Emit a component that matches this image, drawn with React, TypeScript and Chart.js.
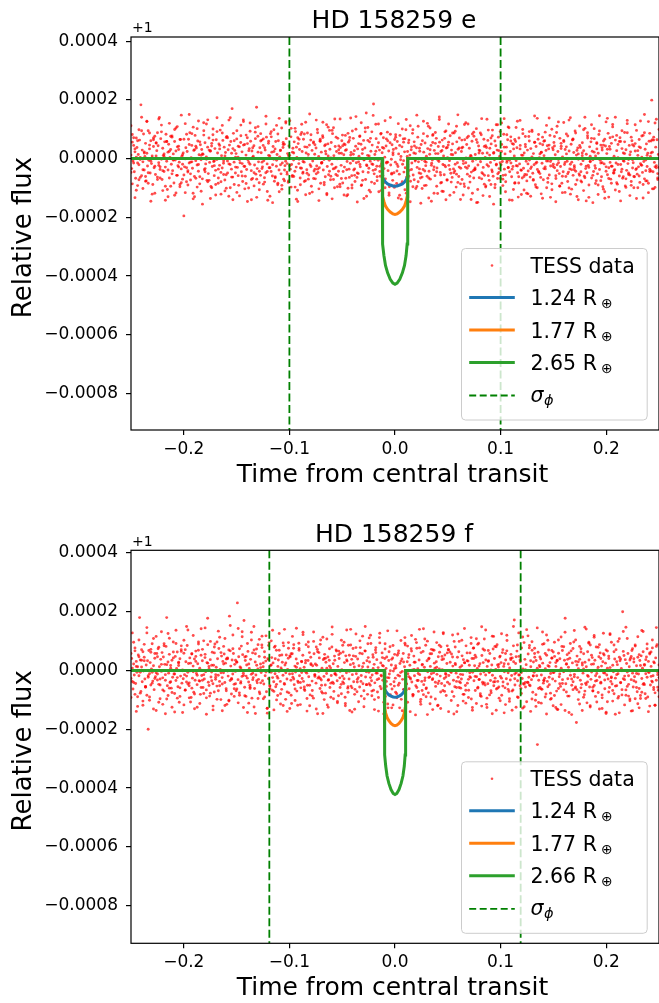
import React, { useEffect, useRef } from "react";
import { Chart, registerables } from "chart.js";

Chart.register(...registerables);

// ---------- text ----------
const panelTitles = ["HD 158259 e", "HD 158259 f"];
const xLabel = "Time from central transit";
const yLabel = "Relative flux";
const offsetLabel = "+1";
const legendDataLabel = "TESS data";
const radiiE = ["1.24", "1.77", "2.65"];
const radiiF = ["1.24", "1.77", "2.66"];

// ---------- axes ----------
const xTicks = [-0.2, -0.1, 0.0, 0.1, 0.2];
const yTicksPpm = [400, 200, 0, -200, -400, -600, -800];
const xRange = [-0.25, 0.25];
const yRangeEPpm = [-924, 414];
const yRangeFPpm = [-928, 409];

// sigma_phi (timing uncertainty) markers
const sigmaPhiE = 0.1;
const sigmaPhiF = 0.119;

// ---------- transit models (relative flux - 1, ppm) ----------
const modelTimesE = [-0.25, -0.0121, -0.012, -0.0115, -0.0105, -0.009, -0.007, -0.0045, -0.002, 0, 0.002, 0.0045, 0.007, 0.009, 0.0105, 0.0115, 0.012, 0.0121, 0.25];
const modelBlueEPpm = [0, 0, -56, -64, -72, -80, -86, -90, -93, -94, -93, -90, -86, -80, -72, -64, -56, 0, 0];
const modelOrangeEPpm = [0, 0, -114, -129, -146, -162, -173, -182, -188, -190, -188, -182, -173, -162, -146, -129, -114, 0, 0];
const modelGreenEPpm = [0, 0, -257, -291, -330, -364, -389, -411, -424, -428, -424, -411, -389, -364, -330, -291, -257, 0, 0];

const modelTimesF = [-0.25, -0.0101, -0.01, -0.0096, -0.0088, -0.0075, -0.0058, -0.0038, -0.0017, 0, 0.0017, 0.0038, 0.0058, 0.0075, 0.0088, 0.0096, 0.01, 0.0101, 0.25];
const modelBlueFPpm = [0, 0, -55, -62, -70, -77, -83, -87, -90, -91, -90, -87, -83, -77, -70, -62, -55, 0, 0];
const modelOrangeFPpm = [0, 0, -113, -128, -145, -160, -171, -180, -186, -188, -186, -180, -171, -160, -145, -128, -113, 0, 0];
const modelGreenFPpm = [0, 0, -253, -287, -325, -359, -384, -405, -418, -422, -418, -405, -384, -359, -325, -287, -253, 0, 0];

// ---------- TESS phase-folded photometry (flux - 1, ppm); each block is evenly sampled over the window ----------
const tessFluxEPpm = [
  12,-34,56,-8,71,-45,23,-67,5,38,-92,14,-21,63,-3,183,-58,29,-11,84,
  -39,7,52,-76,18,-25,95,-6,33,-49,61,-17,2,-88,41,-31,76,-54,9,27,
  -63,44,-14,140,-37,68,-2,-71,35,11,-44,57,-29,83,-9,-105,22,49,-66,4,
  31,-19,73,-41,16,-83,58,-5,26,-57,109,-24,42,-12,-96,65,-35,8,-70,19,
  -195,-28,-1,37,-79,24,-46,66,-15,88,-52,3,45,-33,-118,28,-61,79,-7,36,
  -22,60,-43,13,-86,47,-4,31,-69,15,122,-38,54,-18,6,-74,39,-51,70,-13,
  25,-95,43,-27,81,-10,-58,34,-40,64,-3,19,-84,50,-23,97,-47,10,-32,62,
  -16,39,-73,21,-55,75,-8,30,-128,46,-20,58,-36,170,-63,86,-12,28,-49,17,
  67,-30,5,-91,40,-14,55,-45,23,-78,132,-26,48,-60,12,-37,71,-5,-100,34,
  -19,59,-41,26,-68,8,44,-22,90,-53,175,-34,76,-11,-82,37,-57,20,63,-28,
  45,-7,-65,29,-48,73,-18,-142,52,-31,9,85,-44,22,-59,41,-2,-77,33,58,
  -26,14,-89,61,-39,6,27,-52,104,-15,38,-70,49,-24,-9,68,-46,17,-81,43,
  11,-36,74,-20,-61,35,-5,57,-43,92,-29,4,-108,51,-17,31,-66,82,-33,24,
  -50,66,-12,40,-75,19,-38,87,2,-56,46,-21,63,-94,28,-8,53,-42,15,-69,
  36,-25,99,-47,7,-31,60,-84,22,-13,78,-39,-3,44,-62,16,115,-27,50,-55,
  -6,32,-72,55,-19,85,-35,10,-99,41,-54,24,-1,69,-43,18,-87,38,-23,61,
  80,-44,13,-29,47,-67,30,-10,-123,56,-36,72,-16,21,-58,94,-7,-39,27,-78,
  42,-14,-64,33,-51,8,75,-28,49,-90,17,-45,62,-3,36,-71,155,-24,11,-47,
  -33,57,-9,25,-80,46,-20,186,-52,14,-37,68,-26,39,-6,-113,29,-60,84,-18,
  20,-57,71,-34,5,-69,43,-12,90,-41,26,-96,54,-22,-2,47,-74,31,-48,65,
  -12,35,-85,58,-27,16,-53,79,-4,-138,40,-19,67,-46,23,-31,98,-63,7,-21,
  54,-40,12,-77,30,-15,86,-56,19,43,-8,-102,37,-30,73,-11,-49,25,-66,48,
  -3,61,-37,22,-92,53,-24,8,-60,34,110,-43,15,-70,45,-16,-5,82,-38,28,
  -58,17,69,-32,-119,41,-10,56,-47,24,-81,63,-20,9,-55,91,-28,36,-73,3,
  46,-23,-7,78,-50,29,-64,13,-35,87,-42,20,-97,57,-14,32,-61,70,-1,-33,
  24,-71,39,-17,-86,64,-29,2,48,-53,118,-25,35,-80,11,-46,59,-9,-41,76,
  -37,14,-2,-150,55,-22,43,-65,27,-11,81,-48,18,-30,66,-57,4,-93,38,19,
  62,-26,-74,35,-13,50,-39,97,-60,21,-4,-88,44,-19,29,-52,73,-34,8,-68,
  -21,48,-10,-57,83,-36,16,-79,39,-7,64,-30,105,-45,24,-15,-62,51,-27,33,
  9,-82,58,-24,37,-48,-131,70,-18,45,-39,12,-66,85,-33,19,-54,40,-9,-76,
  29,-42,75,-5,-63,34,-28,92,-50,17,-21,56,-89,41,-12,-37,66,-44,3,51,
  -64,22,-16,47,-72,10,61,-35,28,-99,44,-8,33,-56,79,-25,-3,-106,37,-19,
  55,-31,13,-68,89,-41,24,-14,-51,69,-27,42,-84,6,-45,58,-20,31,-61,16,
  -9,77,-46,26,-35,-121,49,-12,63,-57,21,-30,94,-43,12,-73,36,-2,-52,45,
  38,-19,-80,54,-7,27,-60,103,-34,15,-48,70,-23,-90,40,-11,57,-66,25,-4,
  -44,68,-24,9,-75,33,-52,18,82,-37,-6,46,-62,29,-96,60,-18,-135,43,-28,
  17,-55,86,-31,41,-13,-70,52,-26,74,-49,8,-38,63,-15,27,-87,48,-1,-59,
  71,-20,-45,34,-67,19,-9,57,-93,30,-40,88,-17,-3,45,-56,23,-78,61,-32,
  -14,43,-62,26,-37,96,-53,11,-28,65,-81,37,-22,5,-47,79,-10,-69,32,-41,
  50,-27,18,-84,59,-36,7,60,199,22,-45,73,-13,-98,39,-24,64,-51,14,-30,
];

const tessFluxEPpmB = [
  112,-86,45,-133,70,-15,98,-64,141,-102,23,-77,126,-48,87,-145,9,64,-118,53,
  -71,135,-28,91,-109,16,-142,58,-39,120,-94,77,-6,-125,104,-57,31,-88,148,-19,
  66,-116,83,-41,150,-73,-11,107,-130,42,-97,128,-62,11,-155,95,-34,118,-79,29,
  -136,52,101,-24,-88,139,-66,33,-121,87,-8,-110,72,-49,131,-99,18,-140,61,-29,
  95,-58,-127,114,-17,46,-103,80,-146,27,121,-71,4,-93,68,-132,109,-43,85,-12,
  -87,37,144,-112,59,-31,92,-150,24,-65,113,-84,137,-21,-104,48,-76,126,-53,10,
  129,-97,22,-61,103,-138,71,-2,-89,117,-46,84,-123,39,-70,152,-27,-114,57,-36,
  -52,88,-143,66,-14,124,-81,47,-119,9,96,-60,-137,105,-33,73,-96,30,135,-68,
  44,-124,79,-38,-101,62,138,-90,15,-57,100,-148,51,-20,122,-74,-5,91,-128,106,
  -108,69,-18,147,-85,25,-62,118,-44,86,-131,35,-99,67,-12,-117,140,-50,13,-92,
  81,-42,119,-125,7,-79,56,-106,133,-26,63,-147,40,98,-72,17,-95,110,-35,-152,
  -63,127,-9,-91,76,-134,104,-23,55,-118,89,-45,-6,142,-83,28,-112,69,-140,38,
  118,-37,-80,50,-115,93,-53,149,-29,-86,36,-124,116,-14,71,-100,3,-139,84,-66,
  -32,102,-149,19,87,-69,-126,41,-97,134,-58,12,-88,78,-155,60,-22,115,-47,92,
  24,-92,136,-56,-13,108,-141,74,-36,-105,65,-7,127,-83,33,-122,99,-61,48,-118,
  -120,60,-34,97,-71,145,-16,-99,82,-51,21,-135,59,-28,113,-67,138,-10,-86,30,
  75,-147,110,-3,-94,52,-60,123,-115,40,-78,131,-19,-104,67,-38,87,-129,16,-57,
  -45,19,-109,141,-26,88,-132,8,69,-150,102,-33,54,-90,146,-75,-14,46,-113,125,
  137,-68,32,-84,116,-41,-107,79,-20,58,-144,95,-62,17,-98,130,-49,-126,73,-4,
  -99,51,-136,27,-59,128,-23,-88,150,-76,11,-116,86,-42,64,-103,121,-31,-71,99,
];

const tessFluxEPpmC = [
  -47,82,-15,33,-108,61,-72,4,95,-38,19,-61,127,-84,46,-9,-121,70,-26,53,
  88,-23,-66,114,-41,7,-94,58,-130,25,76,-52,-3,99,-117,40,-29,65,-82,13,
  -56,119,-31,-90,48,-12,85,-137,30,-67,102,-20,57,-111,16,80,-45,-2,132,-74,
  27,-99,63,-8,-124,92,-36,45,-79,113,-54,9,-101,71,-18,139,-63,34,-88,5,
  -115,42,-4,78,-59,126,-27,-85,51,-13,93,-140,37,-48,105,-70,22,-106,60,-34,
  67,-80,118,-44,11,-128,74,-21,98,-62,-6,84,-113,29,-91,55,-39,121,-17,-76,
  -24,103,-57,19,-97,39,-146,66,-32,89,-10,-78,124,-50,14,-119,81,-1,-68,47,
  131,-36,-103,59,-16,72,-89,25,-123,107,-43,2,96,-71,135,-29,-58,43,-96,18,
  -83,50,28,-127,86,-64,12,-100,69,-35,143,-49,-11,77,-92,31,-136,104,-22,62,
  9,-114,91,-40,-3,117,-75,54,-26,-109,38,-82,129,-15,61,-125,83,-53,20,-98,
  73,-19,-134,45,-86,101,-7,68,-118,24,-60,112,-37,-96,57,-4,148,-79,35,-51,
  -102,85,-42,-12,120,-66,30,-145,79,-28,52,-94,17,133,-56,-111,41,-23,94,-73,
  56,-125,14,87,-48,-19,110,-81,36,-139,63,-7,-95,122,-33,76,-60,8,-118,90,
  -37,64,-105,29,-2,136,-52,-87,44,-21,97,-129,70,-45,18,-99,115,-68,27,-14,
  121,-70,39,-113,81,-31,-6,60,-142,49,-84,106,-25,-62,130,-40,11,-107,75,-55,
  -18,92,-128,6,-74,55,-97,137,-46,16,-120,73,-34,90,-8,-81,46,-132,100,-27,
  43,-58,-21,125,-93,34,-116,62,-13,84,-52,-100,139,-38,65,-24,-88,28,-140,111,
  -76,10,98,-65,-144,78,-30,-9,115,-57,22,-85,51,-122,94,-15,37,-104,66,-43,
  32,-131,71,-26,108,-49,141,-82,3,-112,58,-36,-7,89,-69,119,-54,13,-91,47,
  -61,115,-34,-99,40,-17,77,-134,88,-5,-76,126,-44,19,-103,63,-28,134,-66,2,
];

const tessFluxFPpm = [
  -27,41,8,-63,22,-15,77,-44,31,-6,-89,53,-18,180,36,-71,12,-38,64,-2,
  45,-29,-57,19,-84,33,-200,68,-11,27,-49,5,91,-36,16,-65,42,-21,-8,58,
  -32,74,-47,13,-96,38,-3,61,-25,46,-70,21,-14,82,180,-52,29,-9,55,-41,
  17,-60,35,-23,97,-12,-78,48,-34,7,63,-55,26,-108,40,-19,71,-43,2,-28,
  59,-14,-67,30,-39,85,-6,24,-52,43,-1,-92,57,-26,15,-74,39,-33,66,-10,
  -48,23,69,-35,8,-81,52,-17,33,-58,101,-29,44,-4,-66,27,178,-40,14,-87,
  37,-22,-5,62,-45,18,-73,90,-30,11,-53,40,-16,75,-37,4,-99,49,-24,31,
  -8,56,-41,25,-62,-115,43,-19,70,185,-34,15,-80,36,-12,58,-47,21,-3,-69,
  28,230,-31,47,-76,12,-43,83,-20,54,-9,170,-57,34,-88,19,-26,65,-39,7,
  -50,38,-13,-94,60,-24,150,-61,29,-15,73,-42,5,-30,48,-79,22,-7,87,-35,
  13,-46,64,-18,32,-72,-129,40,-28,95,-53,17,-6,44,-67,26,-38,79,-11,-55,
  69,-20,-85,36,-3,51,-37,9,-64,28,-16,84,-44,19,-98,53,-29,4,42,-76,
  -12,47,-33,-112,57,-23,76,-48,15,-5,39,-70,24,-41,93,-18,6,-59,31,-27,
  52,-37,11,-68,26,88,-9,-50,34,-21,61,-83,45,-1,-36,16,-94,57,-14,22,
  -43,18,72,-26,-3,43,-61,104,-32,8,-77,37,-20,55,-49,28,-10,-117,46,-31,
  35,-58,9,-17,80,-40,23,-71,49,-12,-2,66,-35,14,-86,41,-25,59,-47,3,
  -19,63,-44,27,-91,50,-8,32,-60,86,-29,-136,20,-53,38,-14,75,-38,12,-64,
  48,-11,-72,39,-24,16,-56,78,-37,3,57,-45,25,-96,67,-22,-4,33,-81,44,
  -6,29,-50,92,-35,-15,54,-67,21,-42,70,-9,37,-73,10,-28,112,-54,26,-19,
  60,-33,15,-59,41,-88,7,46,-24,-127,34,-12,81,-47,19,-63,43,-2,-38,55,
  -26,9,-79,52,-16,67,-43,24,-7,-98,39,-30,58,-65,13,87,-21,-46,30,-11,
  44,-62,18,-29,74,-39,2,-83,49,-18,28,-52,95,-34,6,-71,36,-14,-106,61,
  -37,21,65,-48,11,-25,86,-59,33,-4,-76,42,-22,14,-90,57,-31,70,-8,25,
  8,-54,30,-13,-120,47,-36,62,-19,81,-44,3,-68,39,-27,53,-10,-85,24,-40,
  71,-17,-46,28,-3,56,-72,15,-33,99,-55,20,-9,-140,45,-23,64,-38,11,-60,
  -29,50,-14,37,-81,26,-51,84,-2,-43,32,-67,18,60,-24,-97,41,-6,76,-35,
  16,-68,45,-21,7,-57,93,-30,23,-12,-88,51,-40,27,-5,69,-49,36,-115,14,
  -45,33,-7,58,-34,-76,19,-16,73,-52,41,-26,4,-63,88,-37,12,-94,46,-20,
  27,-84,61,-39,14,-4,-59,36,-28,102,-46,22,-71,9,-32,55,-17,43,-66,30,
  172,-49,24,-8,66,-35,-92,48,-15,30,-61,77,-27,5,-44,-123,38,-56,20,-1,
  -40,56,-23,85,-52,13,-31,69,-74,29,-6,45,-101,34,-18,-252,62,-33,17,-58,
  39,-15,-64,25,-43,91,-26,6,-80,52,-37,16,70,-48,27,-10,-95,43,-29,63,
  -7,48,-36,14,-70,33,-133,59,-21,40,-54,8,82,-31,-2,-66,35,178,-45,23,
  54,-28,11,-87,42,-16,67,-50,26,-38,97,-13,-60,31,-177,49,-24,6,-73,38,
  -33,74,-47,19,-9,57,-82,28,-43,13,-110,64,-20,36,-56,87,-30,-5,44,-69,
  22,-51,35,-18,80,-34,3,-75,47,-22,60,-40,15,-93,30,-8,53,-62,25,-142,
  -15,66,-29,41,-58,10,-37,96,-46,18,-4,-79,39,-26,71,-52,20,-11,-88,45,
  33,-42,7,-65,200,-28,51,-19,37,-84,24,-5,58,-47,13,-103,42,-31,68,-9,
  -56,29,-21,83,-39,16,-72,45,-12,-61,34,-95,50,-27,8,64,-44,21,-79,37,
  46,-23,-90,31,-7,60,-49,14,-36,77,-18,-58,26,-118,43,-33,88,-14,-67,19,
];

const tessFluxFPpmB = [
  -92,128,-41,67,-139,13,104,-77,35,-118,89,-54,146,-23,-101,72,-6,-131,58,116,
  47,-108,-29,132,-66,91,-147,20,-85,110,-38,-125,63,-12,137,-94,28,-59,84,-143,
  -117,71,150,-46,-93,25,-60,119,-130,48,-16,97,-112,142,-33,-78,55,-149,88,6,
  99,-35,-121,80,-14,-98,134,-52,61,-137,22,109,-69,40,-104,153,-27,74,-88,-45,
  -63,143,-84,9,115,-126,46,-19,92,-111,-57,130,-31,70,-146,18,-95,106,-42,78,
  26,-90,118,-145,37,-61,101,-24,-134,83,-47,14,126,-79,53,-119,140,-8,-73,95,
  -129,57,-11,88,-102,144,-36,69,-116,30,122,-64,-5,-138,97,-50,23,-87,131,-20,
  80,-147,61,-27,-72,113,-99,42,8,-125,74,-43,148,-96,35,-15,-110,66,-58,103,
  -39,96,-120,138,-55,-3,87,-141,50,-81,124,-30,-106,59,-17,117,-69,150,-48,12,
  111,-24,-86,45,-133,78,-9,-92,127,-62,17,-148,91,-37,-114,64,-1,-127,85,-53,
  -74,135,-50,-19,102,-137,29,93,-66,-108,54,-25,119,-81,4,-151,76,-34,140,-98,
  19,-82,107,-62,-150,39,-113,72,-28,131,-97,11,-44,86,-129,48,125,-71,-13,60,
  -140,63,-7,121,-88,24,-58,-119,99,-42,16,-104,143,-67,33,-92,-21,112,-135,77,
  52,-112,89,-31,-79,149,-46,107,-15,-126,68,-83,2,-147,116,-38,81,-60,21,-103,
  -26,71,-144,58,120,-64,-105,37,-135,84,-12,47,-90,128,-52,-7,-128,95,-41,139,
  118,-49,33,-97,-18,76,-122,145,-61,13,-111,89,-35,58,-148,103,-23,-77,42,-120,
  -85,27,-132,104,-45,-116,68,-4,130,-73,38,-143,92,-29,-65,136,-56,19,-99,82,
  63,-136,5,-70,141,-39,96,-124,21,-57,113,-88,-10,79,-131,41,-83,127,-32,-146,
  -106,49,125,-22,-68,87,-149,30,-94,108,-41,-1,65,-117,147,-54,-87,36,-138,74,
  40,-96,-58,115,-127,17,-74,133,-48,-11,90,-140,56,-20,104,-65,-118,82,-6,-89,
];

const tessFluxFPpmC = [
  58,-37,96,-81,14,-122,47,-6,71,-104,33,-55,128,-18,-90,62,-43,109,-27,-136,
  -12,79,-49,21,-115,84,-33,-97,126,-60,8,-75,43,-141,92,-24,17,-88,65,-1,
  103,-66,-19,138,-42,-107,56,-4,-80,31,-125,90,-36,-58,72,-14,145,-93,25,-51,
  -77,18,-134,60,-23,97,-69,113,-8,-46,82,-119,39,-2,-101,67,-30,121,-62,35,
  29,-110,74,-38,132,-17,-86,48,-143,22,-61,104,-9,-124,57,-35,88,-73,10,117,
  -96,45,-5,-128,85,-52,19,137,-71,40,-100,-26,69,-114,3,94,-47,26,-139,76,
  50,-84,116,-29,-63,11,-118,75,-41,-7,130,-56,34,-95,81,-120,20,-68,99,-15,
  -131,64,-22,89,-50,-146,41,-77,107,-33,15,-91,123,-44,-11,70,-105,54,-3,-79,
  86,-28,-112,36,-74,52,140,-59,24,-132,78,-39,-1,101,-87,13,-123,66,-48,91,
  -45,120,-70,7,-99,61,-31,-138,94,-16,44,-108,73,-54,135,-25,-82,38,-117,6,
  16,-93,59,-127,32,-3,-64,112,-46,83,-21,-140,66,-87,28,106,-58,-10,77,-115,
  -68,142,-34,-89,100,-24,57,-11,-133,69,-40,95,-118,5,-73,37,129,-52,-22,84,
  71,-2,-102,46,-148,80,-37,124,-58,-13,103,-81,27,-111,60,-30,-8,92,-126,41,
  -20,108,-60,15,-86,-121,73,-42,138,-94,31,-4,-69,117,-39,82,-135,19,-56,49,
  125,-53,23,-116,67,-8,-96,42,-70,150,-28,-125,87,-15,36,-78,114,-47,3,-106,
  -41,77,-139,98,-19,58,-82,8,-109,46,-63,131,-33,-90,121,-55,14,-98,68,-7,
  96,-126,35,-61,-12,114,-44,81,-136,21,-87,60,-2,-150,75,-21,104,-65,30,-114,
  -59,26,-91,147,-48,-17,93,-120,52,-70,119,-36,-107,11,88,-43,-129,57,-9,70,
  8,-73,122,-25,-104,64,-53,-14,99,-144,39,-83,133,-31,-66,109,-18,-97,48,-137,
  -35,87,-10,-113,54,-85,136,-47,18,-95,74,-5,-121,63,-39,29,-76,146,-57,-24,
];

// ---------- styling ----------
const FONT = "'DejaVu Sans', sans-serif";
const colBlue = "#1f77b4";
const colOrange = "#ff7f0e";
const colGreen = "#2ca02c";
const colDash = "#008000";
const colData = "rgba(255,0,0,0.7)";

type PanelDef = {
  title: string;
  flux: number[][];
  yRange: number[];
  sigma: number;
  modelTimes: number[];
  models: number[][];
  radii: string[];
  padTop: number;
  xAxisHeight: number;
};

const panels: PanelDef[] = [
  { title: panelTitles[0], flux: [tessFluxEPpm, tessFluxEPpmB, tessFluxEPpmC], yRange: yRangeEPpm, sigma: sigmaPhiE, modelTimes: modelTimesE,
    models: [modelBlueEPpm, modelOrangeEPpm, modelGreenEPpm], radii: radiiE, padTop: 37, xAxisHeight: 75 },
  { title: panelTitles[1], flux: [tessFluxFPpm, tessFluxFPpmB, tessFluxFPpmC], yRange: yRangeFPpm, sigma: sigmaPhiF, modelTimes: modelTimesF,
    models: [modelBlueFPpm, modelOrangeFPpm, modelGreenFPpm], radii: radiiF, padTop: 45.3, xAxisHeight: 59.7 },
];

function fmt(v: number, d: number) {
  const s = Math.abs(v).toFixed(d);
  return (v < -1e-12 ? "\u2212" : "") + s;
}

const decorPlugin = {
  id: "decor",
  afterDraw(chart: any, _args: any, opts: any) {
    const { ctx, chartArea: a } = chart;
    const p: PanelDef = opts.panel;
    ctx.save();
    // frame
    ctx.strokeStyle = "#000";
    ctx.lineWidth = 1.2;
    ctx.strokeRect(a.left, a.top, a.right - a.left, a.bottom - a.top);
    ctx.fillStyle = "#000";
    ctx.textBaseline = "alphabetic";
    // title
    ctx.font = `25px ${FONT}`;
    ctx.textAlign = "center";
    ctx.fillText(p.title, (a.left + a.right) / 2 - 1, a.top - 8.7);
    // x label
    ctx.fillText(xLabel, (a.left + a.right) / 2 - 2.5, a.bottom + 52);
    // y label
    ctx.save();
    ctx.translate(30.5, (a.top + a.bottom) / 2 + 4);
    ctx.rotate(-Math.PI / 2);
    ctx.font = `26px ${FONT}`;
    ctx.fillText(yLabel, 0, 0);
    ctx.restore();
    // offset text
    ctx.font = `14px ${FONT}`;
    ctx.textAlign = "left";
    ctx.fillText(offsetLabel, a.left + 1, a.top - 4.7);

    // legend
    const lw = 185.7, lh = 171.5;
    const lx = a.right - 11.8 - lw;
    const ly = a.bottom - 10 - lh;
    ctx.beginPath();
    ctx.roundRect(lx, ly, lw, lh, 4);
    ctx.fillStyle = "rgba(255,255,255,0.8)";
    ctx.fill();
    ctx.strokeStyle = "#cccccc";
    ctx.lineWidth = 1;
    ctx.stroke();
    const rows = [17, 49, 81.5, 114, 147];
    const hx0 = lx + 7.7, hx1 = lx + 53.3, tx = lx + 69;
    // data marker
    ctx.fillStyle = colData;
    ctx.beginPath();
    ctx.arc((hx0 + hx1) / 2, ly + rows[0], 1.3, 0, Math.PI * 2);
    ctx.fill();
    const lineCols = [colBlue, colOrange, colGreen];
    for (let k = 0; k < 3; k++) {
      const y = ly + rows[k + 1];
      ctx.strokeStyle = lineCols[k];
      ctx.lineWidth = 3;
      ctx.beginPath();
      ctx.moveTo(hx0, y);
      ctx.lineTo(hx1, y);
      ctx.stroke();
    }
    ctx.strokeStyle = colDash;
    ctx.lineWidth = 1.8;
    ctx.setLineDash([7, 3.5]);
    ctx.beginPath();
    ctx.moveTo(hx0, ly + rows[4]);
    ctx.lineTo(hx1, ly + rows[4]);
    ctx.stroke();
    ctx.setLineDash([]);
    // legend text
    ctx.fillStyle = "#000";
    ctx.font = `20.5px ${FONT}`;
    ctx.fillText(legendDataLabel, tx, ly + rows[0] + 7.5);
    for (let k = 0; k < 3; k++) {
      const y = ly + rows[k + 1] + 7.5;
      ctx.font = `20.5px ${FONT}`;
      const s = `${p.radii[k]} R`;
      ctx.fillText(s, tx, y);
      const w = ctx.measureText(s).width;
      ctx.font = `14px ${FONT}`;
      ctx.fillText("\u2295", tx + w + 4, y + 3);
    }
    ctx.font = `italic 20.5px ${FONT}`;
    ctx.fillText("\u03c3", tx, ly + rows[4] + 6);
    const sw = ctx.measureText("\u03c3").width;
    ctx.font = `italic 14.5px ${FONT}`;
    ctx.fillText("\u03d5", tx + sw + 0.5, ly + rows[4] + 9);
    ctx.restore();
  },
};

function buildConfig(p: PanelDef): any {
  const tessPoints: { x: number; y: number }[] = [];
  p.flux.forEach((block) => {
    const n = block.length;
    block.forEach((v, i) => {
      tessPoints.push({ x: xRange[0] + (i * (xRange[1] - xRange[0])) / (n - 1), y: v });
    });
  });
  const modelCols = [colBlue, colOrange, colGreen];
  const modelSets = p.models.map((m, k) => ({
    data: m.map((v, i) => ({ x: p.modelTimes[i], y: v })),
    showLine: true,
    borderColor: modelCols[k],
    borderWidth: 3,
    pointRadius: 0,
    tension: 0,
    order: 3 - k,
  }));
  const dashSets = [-p.sigma, p.sigma].map((s) => ({
    data: [{ x: s, y: p.yRange[1] }, { x: s, y: p.yRange[0] }],
    showLine: true,
    borderColor: colDash,
    borderWidth: 1.8,
    borderDash: [8, 3.5],
    pointRadius: 0,
    order: 0,
  }));
  const tickFont = { family: FONT, size: 17 };
  return {
    type: "scatter",
    data: {
      datasets: [
        {
          data: tessPoints,
          pointRadius: 1.45,
          pointBackgroundColor: colData,
          pointBorderWidth: 0,
          backgroundColor: colData,
          borderWidth: 0,
          order: 4,
        },
        ...modelSets,
        ...dashSets,
      ],
    },
    options: {
      responsive: false,
      animation: false,
      devicePixelRatio: 1,
      events: [],
      layout: { padding: { top: p.padTop, left: 0, right: 0, bottom: 0 } },
      plugins: {
        legend: { display: false },
        tooltip: { enabled: false },
        title: { display: false },
        decor: { panel: p },
      },
      scales: {
        x: {
          type: "linear",
          min: xRange[0],
          max: xRange[1],
          border: { display: false },
          grid: { drawOnChartArea: false, drawTicks: true, tickLength: 5, color: "#000", lineWidth: 1.2 },
          ticks: { font: tickFont, color: "#000", padding: 4, maxRotation: 0, autoSkip: false, callback: (v: number) => fmt(v, 1) },
          afterBuildTicks: (s: any) => { s.ticks = xTicks.map((v) => ({ value: v })); },
          afterFit: (s: any) => { s.height = p.xAxisHeight; s.paddingLeft = 0; s.paddingRight = 0; },
        },
        y: {
          type: "linear",
          min: p.yRange[0],
          max: p.yRange[1],
          border: { display: false },
          grid: { drawOnChartArea: false, drawTicks: true, tickLength: 5, color: "#000", lineWidth: 1.2 },
          ticks: { font: tickFont, color: "#000", padding: 8, autoSkip: false, callback: (v: number) => fmt(v / 1e6, 4) },
          afterBuildTicks: (s: any) => { s.ticks = yTicksPpm.map((v) => ({ value: v })); },
          afterFit: (s: any) => { s.width = 131; s.paddingTop = 0; s.paddingBottom = 0; },
        },
      },
    },
    plugins: [decorPlugin],
  };
}

export default function App() {
  const refE = useRef<HTMLCanvasElement>(null);
  const refF = useRef<HTMLCanvasElement>(null);
  useEffect(() => {
    const c1 = new Chart(refE.current as HTMLCanvasElement, buildConfig(panels[0]));
    const c2 = new Chart(refF.current as HTMLCanvasElement, buildConfig(panels[1]));
    return () => {
      c1.destroy();
      c2.destroy();
    };
  }, []);
  return (
    <div style={{ position: "absolute", left: 0, top: 0, width: 659, height: 1003, overflow: "hidden", background: "#fff" }}>
      <canvas ref={refE} width={663} height={505} style={{ position: "absolute", left: 0, top: 0, width: 663, height: 505 }} />
      <canvas ref={refF} width={663} height={498} style={{ position: "absolute", left: 0, top: 505, width: 663, height: 498 }} />
    </div>
  );
}
